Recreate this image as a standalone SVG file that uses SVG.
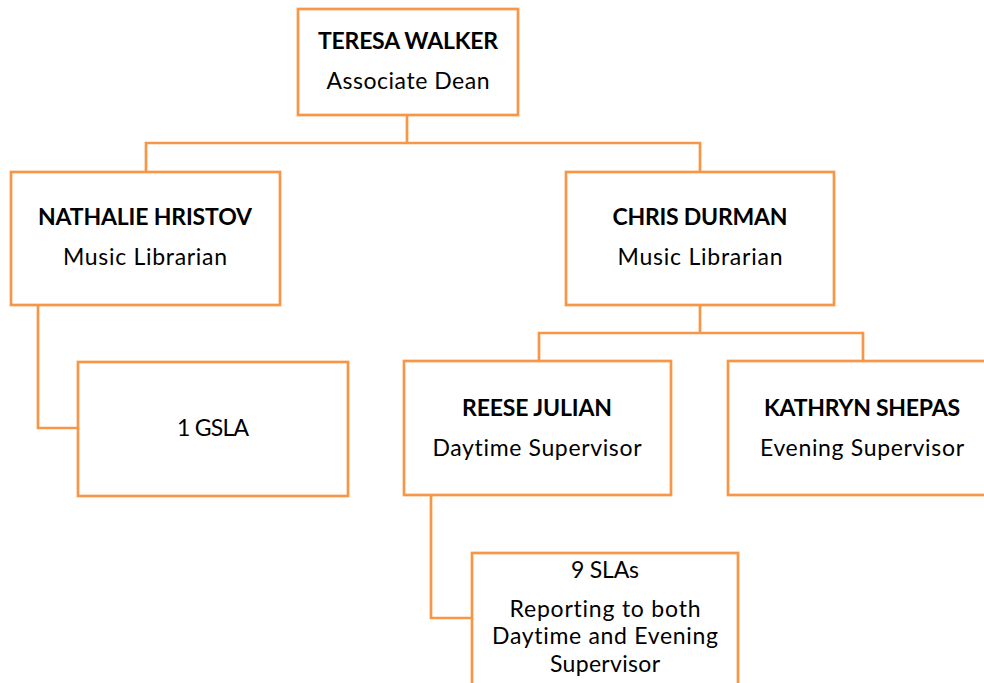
<svg xmlns="http://www.w3.org/2000/svg" width="984" height="683" viewBox="0 0 984 683">
<style>
.box{fill:#fff;stroke:#F79646;stroke-width:2.7}
.con{fill:none;stroke:#F79646;stroke-width:2.7}
text{font-family:Lato,"Liberation Sans",sans-serif;font-size:23px;fill:#000;text-anchor:middle;font-variant-ligatures:none}
.b{font-weight:bold}
</style>
<rect width="984" height="683" fill="#fff"/>
<g id="connectors">
<path class="con" d="M407,115 V143 M146,172 V143 H700 V172"/>
<path class="con" d="M700,305 V333 M539,361 V333 H863 V361"/>
<path class="con" d="M38,305 V428 H78"/>
<path class="con" d="M431,495 V618 H472"/>
</g>
<g id="teresa">
<rect class="box" x="298" y="9" width="220" height="106"/>
<text class="b" x="408" y="49" textLength="180" lengthAdjust="spacing">TERESA WALKER</text>
<text x="408" y="89" textLength="163" lengthAdjust="spacing">Associate Dean</text>
</g>
<g id="nathalie">
<rect class="box" x="11" y="172" width="269" height="133"/>
<text class="b" x="145" y="225" textLength="214" lengthAdjust="spacing">NATHALIE HRISTOV</text>
<text x="145" y="265" textLength="164" lengthAdjust="spacing">Music Librarian</text>
</g>
<g id="chris">
<rect class="box" x="566" y="172" width="268" height="133"/>
<text class="b" x="700" y="225" textLength="175" lengthAdjust="spacing">CHRIS DURMAN</text>
<text x="700" y="265" textLength="165" lengthAdjust="spacing">Music Librarian</text>
</g>
<g id="gsla">
<rect class="box" x="78" y="362" width="270" height="134"/>
<text x="213" y="436" textLength="72" lengthAdjust="spacing">1 GSLA</text>
</g>
<g id="reese">
<rect class="box" x="404" y="361" width="267" height="134"/>
<text class="b" x="537" y="416" textLength="150" lengthAdjust="spacing">REESE JULIAN</text>
<text x="537" y="456" textLength="209" lengthAdjust="spacing">Daytime Supervisor</text>
</g>
<g id="kathryn">
<rect class="box" x="728" y="361" width="268" height="134"/>
<text class="b" x="862" y="416" textLength="196" lengthAdjust="spacing">KATHRYN SHEPAS</text>
<text x="862" y="456" textLength="204" lengthAdjust="spacing">Evening Supervisor</text>
</g>
<g id="slas">
<rect class="box" x="472" y="553" width="266" height="150"/>
<text x="605" y="578" textLength="68" lengthAdjust="spacing">9 SLAs</text>
<text x="605" y="617" textLength="191" lengthAdjust="spacing">Reporting to both</text>
<text x="605" y="644" textLength="226" lengthAdjust="spacing">Daytime and Evening</text>
<text x="605" y="672" textLength="110" lengthAdjust="spacing">Supervisor</text>
</g>
</svg>
